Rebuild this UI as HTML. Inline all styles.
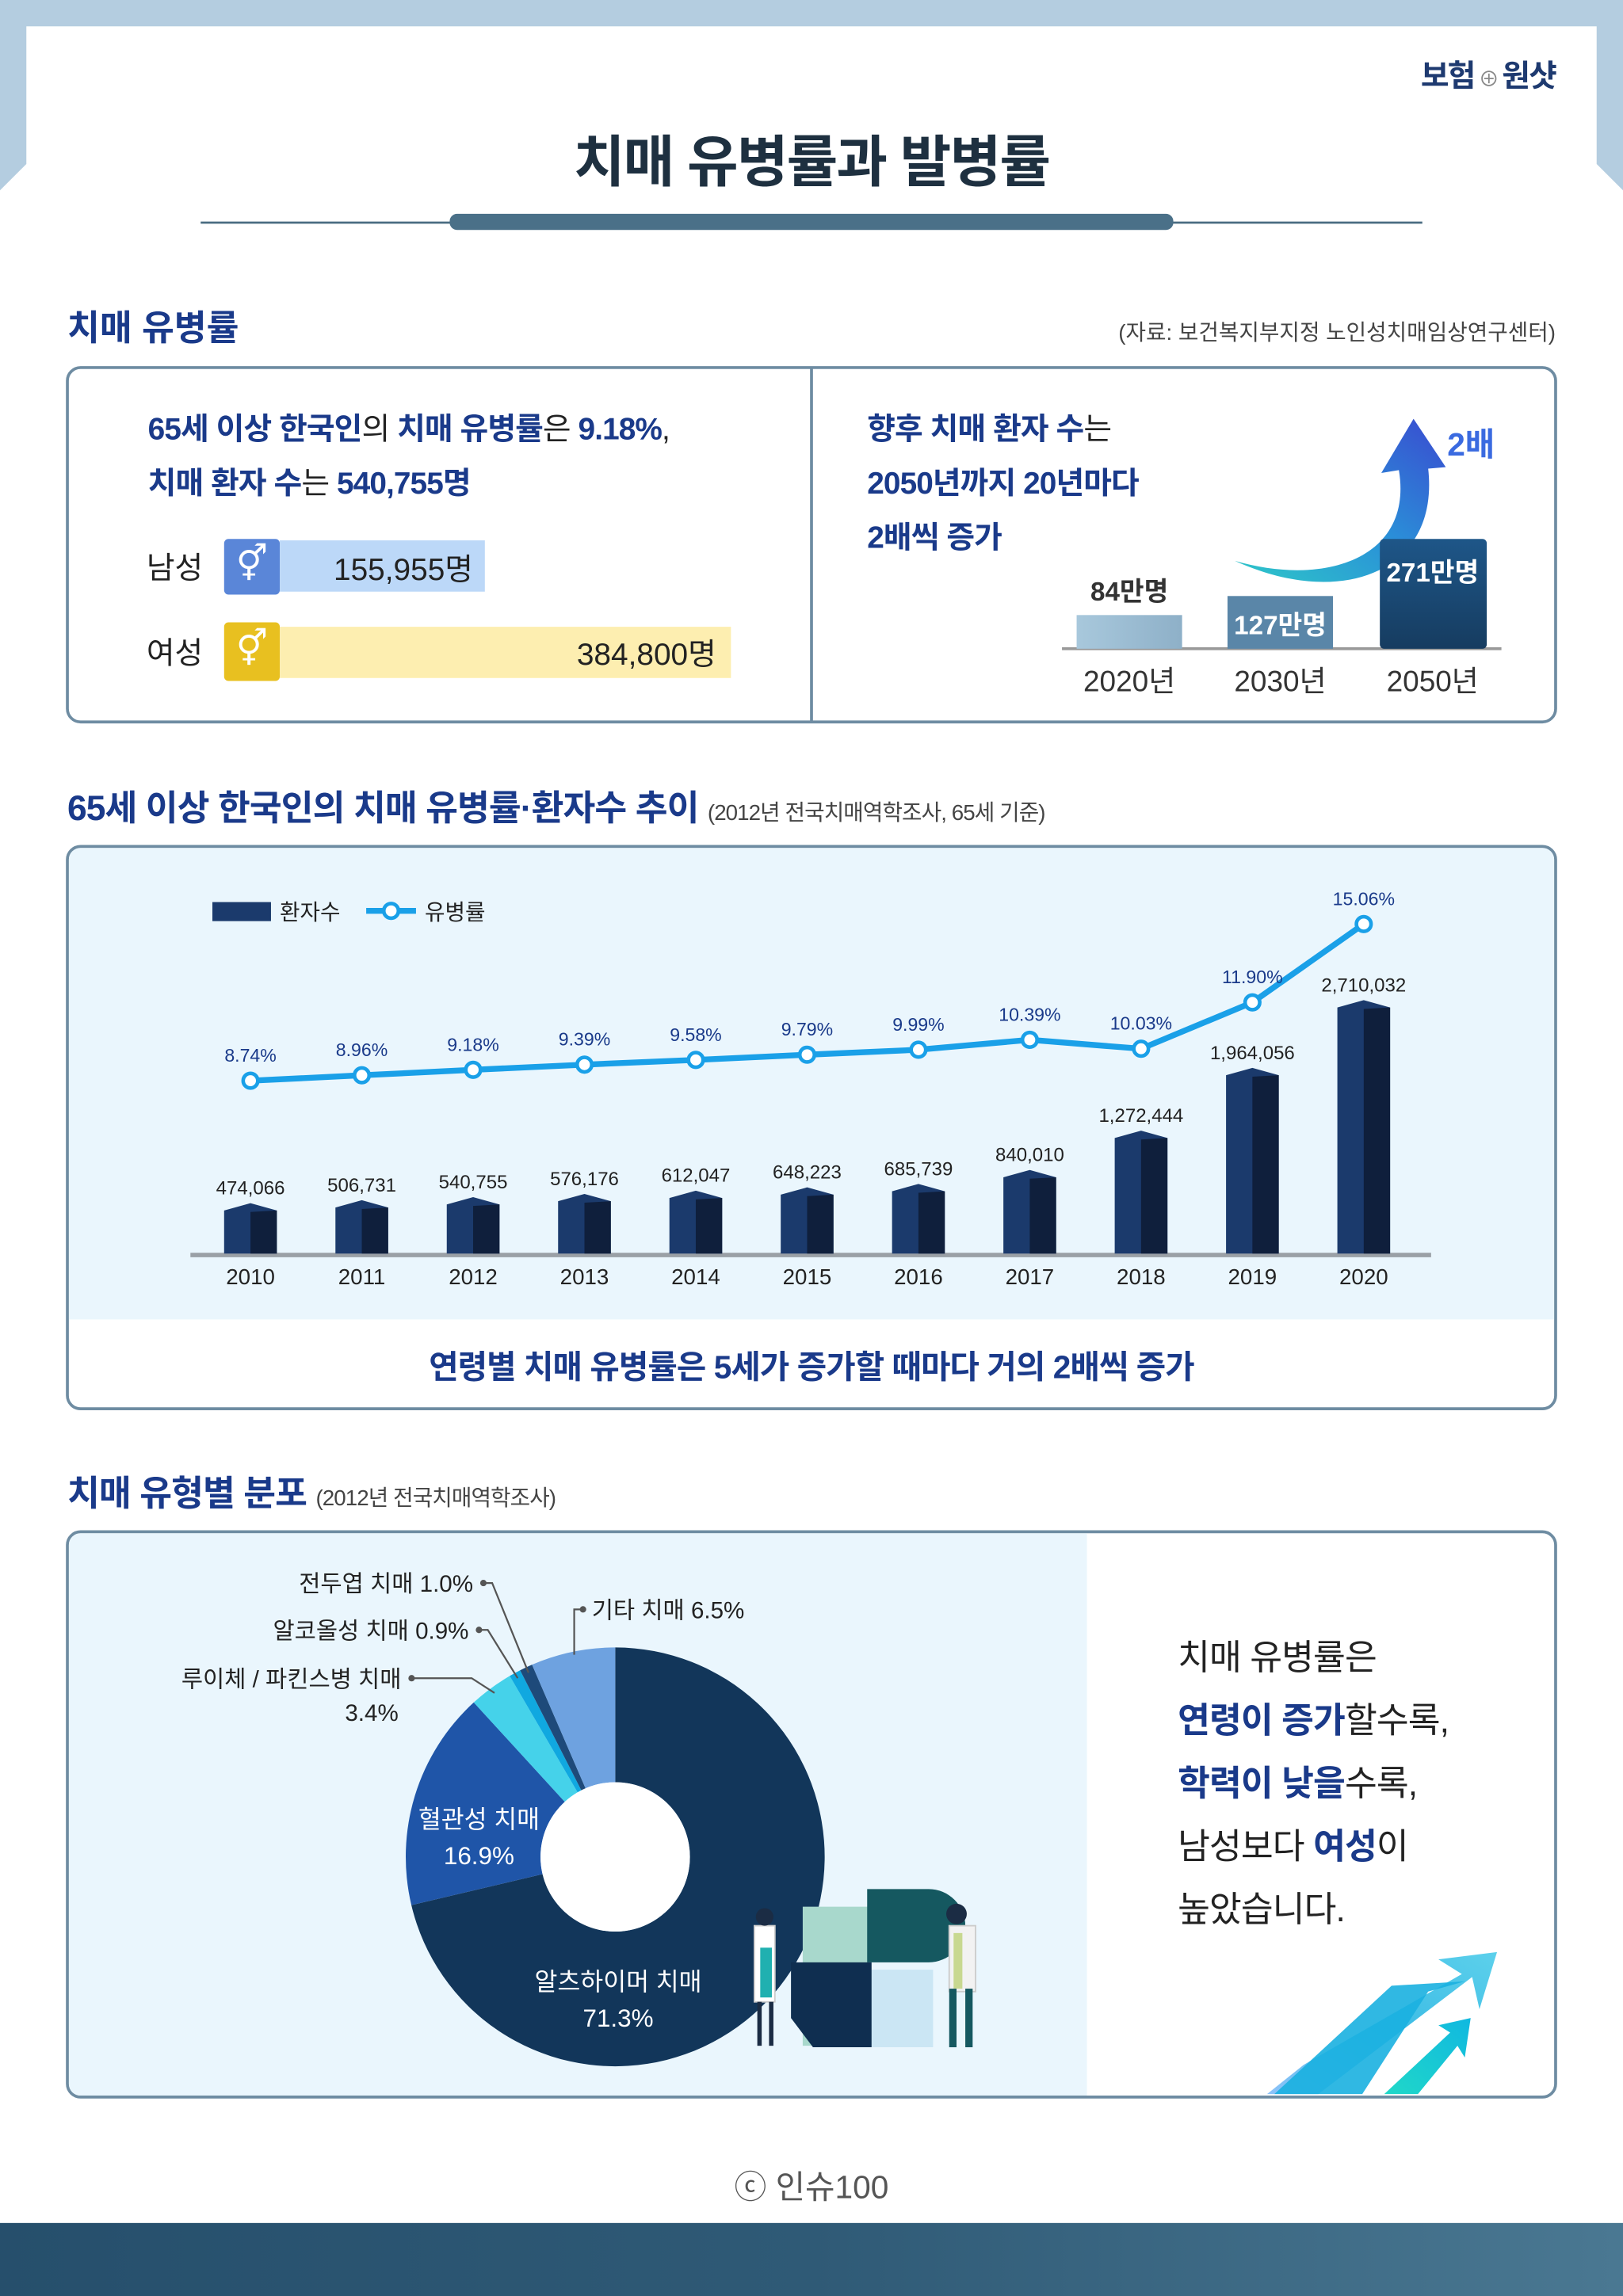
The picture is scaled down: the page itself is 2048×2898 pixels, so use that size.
<!DOCTYPE html>
<html><head><meta charset="utf-8">
<style>
html,body{margin:0;padding:0;}
body{width:2048px;height:2897px;overflow:hidden;background:#fff;font-family:"Liberation Sans","Noto Sans CJK KR",sans-serif;}
#wrap{position:absolute;left:0;top:0;width:1108px;height:1568px;transform:scale(1.84838);transform-origin:0 0;}
.abs{position:absolute;}
.b{font-weight:bold;color:#1a3a8a;}
.n{font-weight:normal;color:#222;}
.box{position:absolute;border:2px solid #6e8ca2;border-radius:10px;box-sizing:border-box;}
</style></head><body>
<div id="wrap">
<svg class="abs" style="left:0;top:0" width="1108" height="1568">
 <defs>
  <linearGradient id="bot" x1="0" x2="1"><stop offset="0" stop-color="#264f6c"/><stop offset="0.5" stop-color="#2f5a76"/><stop offset="1" stop-color="#4a7892"/></linearGradient>
 </defs>
 <rect x="0" y="0" width="1108" height="18" fill="#b4cde0"/>
 <polygon points="0,0 18,0 18,112 0,130" fill="#b4cde0"/>
 <polygon points="1090,0 1108,0 1108,130 1090,112" fill="#b4cde0"/>
 <rect x="0" y="1518" width="1108" height="50" fill="url(#bot)"/>
 <line x1="137" y1="152" x2="971" y2="152" stroke="#4a6c82" stroke-width="1.5"/>
 <rect x="307" y="146" width="494" height="11" rx="5" fill="#4a7088"/>
</svg>
<div class="abs" style="right:46px;top:36px;font-size:21px;font-weight:bold;color:#1e3a70;letter-spacing:-1px">보험<span style="font-size:14px;color:#888;font-weight:normal"> ⊕ </span>원샷</div>
<div class="abs" style="left:0;width:1108px;top:80px;text-align:center;font-size:38px;font-weight:bold;color:#1e3040;letter-spacing:-1px">치매 유병률과 발병률</div>

<!-- section 1 -->
<div class="abs b" style="left:46px;top:204px;font-size:24px">치매 유병률</div>
<div class="abs" style="right:46px;top:216px;font-size:15px;color:#444">(자료: 보건복지부지정 노인성치매임상연구센터)</div>
<div class="box" style="left:45px;top:250px;width:1018px;height:244px"></div>
<div class="abs" style="left:553px;top:251px;width:2px;height:242px;background:#6e8ca2"></div>
<div class="abs" style="left:101px;top:275px;font-size:21px;line-height:37px;letter-spacing:-0.5px">
<span class="b">65세 이상 한국인</span><span class="n">의 </span><span class="b">치매 유병률</span><span class="n">은 </span><span class="b">9.18%</span><span class="n">,</span><br>
<span class="b">치매 환자 수</span><span class="n">는 </span><span class="b">540,755명</span></div>
<div class="abs" style="left:100px;top:372px;font-size:21px;color:#222">남성</div>
<div class="abs" style="left:153px;top:368px;width:38px;height:38px;background:#5a86d8;border-radius:3px;color:#fff;text-align:center;font-size:24px;line-height:36px">⚥</div>
<div class="abs" style="left:191px;top:369px;width:140px;height:35px;background:#bcd8f8"></div>
<div class="abs" style="left:191px;width:132px;top:373px;text-align:right;font-size:21px;color:#222">155,955명</div>
<div class="abs" style="left:100px;top:430px;font-size:21px;color:#222">여성</div>
<div class="abs" style="left:153px;top:425px;width:38px;height:40px;background:#e8c020;border-radius:3px;color:#fff;text-align:center;font-size:24px;line-height:38px">⚥</div>
<div class="abs" style="left:191px;top:428px;width:308px;height:35px;background:#fdeeb0"></div>
<div class="abs" style="left:191px;width:298px;top:431px;text-align:right;font-size:21px;color:#222">384,800명</div>

<div class="abs" style="left:592px;top:275px;font-size:21px;line-height:37px;letter-spacing:-0.5px">
<span class="b">향후 치매 환자 수</span><span class="n">는</span><br><span class="b">2050년까지 20년마다</span><br><span class="b">2배씩 증가</span></div>
<svg class="abs" style="left:555px;top:251px" width="507" height="242">
 <defs>
  <linearGradient id="arr" x1="0" y1="1" x2="1" y2="0"><stop offset="0" stop-color="#2ec8c8"/><stop offset="0.5" stop-color="#2a90d8"/><stop offset="1" stop-color="#3a4ad0"/></linearGradient>
  <linearGradient id="b1" x1="0" x2="1"><stop offset="0" stop-color="#a8c8dc"/><stop offset="1" stop-color="#8eb0c8"/></linearGradient>
  <linearGradient id="b3" x1="0" y1="0" x2="0" y2="1"><stop offset="0" stop-color="#1e5688"/><stop offset="1" stop-color="#163c60"/></linearGradient>
 </defs>
 <path d="M288,132 C350,150 410,130 400,70 L388,72 L410,35 L432,68 L420,69 C428,140 360,165 288,132 Z" fill="url(#arr)"/>
 <text x="433" y="60" font-size="22" font-weight="bold" fill="#3a6ae0" font-family="Liberation Sans, Noto Sans CJK KR, sans-serif">2배</text>
 <line x1="170" y1="192" x2="470" y2="192" stroke="#999" stroke-width="2"/>
 <rect x="180" y="169" width="72" height="23" fill="url(#b1)"/>
 <rect x="283" y="156" width="72" height="36" fill="#5a86a8"/>
 <rect x="387" y="117" width="73" height="75" rx="3" fill="url(#b3)"/>
 <g font-family="Liberation Sans, Noto Sans CJK KR, sans-serif" text-anchor="middle">
 <text x="216" y="159" font-size="18" font-weight="bold" fill="#333">84만명</text>
 <text x="319" y="182" font-size="18" font-weight="bold" fill="#fff">127만명</text>
 <text x="423" y="146" font-size="18" font-weight="bold" fill="#fff">271만명</text>
 <text x="216" y="221" font-size="20" fill="#333">2020년</text>
 <text x="319" y="221" font-size="20" fill="#333">2030년</text>
 <text x="423" y="221" font-size="20" fill="#333">2050년</text>
 </g>
</svg>

<!-- section 2 -->
<div class="abs" style="left:46px;top:532px;font-size:24px;white-space:nowrap;letter-spacing:-0.5px"><span class="b">65세 이상 한국인의 치매 유병률·환자수 추이</span> <span style="font-size:15px;color:#444">(2012년 전국치매역학조사, 65세 기준)</span></div>
<div class="box" style="left:45px;top:577px;width:1018px;height:386px;background:#fff;overflow:hidden">
 <div style="position:absolute;left:0;top:0;width:100%;height:322px;background:#eaf6fd"></div>
</div>
<div class="abs b" style="left:0;width:1108px;top:916px;text-align:center;font-size:22px;letter-spacing:-0.5px">연령별 치매 유병률은 5세가 증가할 때마다 거의 2배씩 증가</div>
<svg id="chart" class="abs" style="left:0;top:0" width="1108" height="1000">
 <rect x="145" y="616" width="40" height="13" fill="#1b3a6c"/>
 <text x="191" y="628" font-size="15" fill="#222" font-family="Liberation Sans, Noto Sans CJK KR, sans-serif">환자수</text>
 <line x1="250" y1="622" x2="284" y2="622" stroke="#1aa0e8" stroke-width="4"/>
 <circle cx="267" cy="622" r="5" fill="#fff" stroke="#1aa0e8" stroke-width="2.5"/>
 <text x="290" y="628" font-size="15" fill="#222" font-family="Liberation Sans, Noto Sans CJK KR, sans-serif">유병률</text>
 <line x1="130" y1="857" x2="977" y2="857" stroke="#9aa0a6" stroke-width="3"/>
</svg>
<script>
const years=["2010","2011","2012","2013","2014","2015","2016","2017","2018","2019","2020"];
const patients=[474066,506731,540755,576176,612047,648223,685739,840010,1272444,1964056,2710032];
const patientLabels=["474,066","506,731","540,755","576,176","612,047","648,223","685,739","840,010","1,272,444","1,964,056","2,710,032"];
const prevalence=[8.74,8.96,9.18,9.39,9.58,9.79,9.99,10.39,10.03,11.90,15.06];
const prevalenceLabels=["8.74%","8.96%","9.18%","9.39%","9.58%","9.79%","9.99%","10.39%","10.03%","11.90%","15.06%"];
(function(){
 const svg=document.getElementById('chart');const NS="http://www.w3.org/2000/svg";
 const xs=i=>171+i*76;
 const yBar=v=>856-v*62/1000000;
 const yLine=p=>738-(p-8.74)*16.93;
 const F="Liberation Sans, Noto Sans CJK KR, sans-serif";
 function mk(t,a){const e=document.createElementNS(NS,t);for(const k in a)e.setAttribute(k,a[k]);svg.appendChild(e);return e;}
 years.forEach((y,i)=>{
  const x=xs(i),top=yBar(patients[i]);
  const g=mk('polygon',{points:`${x-18},${top} ${x},${top-5} ${x+18},${top} ${x+18},856 ${x-18},856`,fill:'#1b3a6c'});
  
  
  const s=mk('polygon',{points:`${x},${top+1} ${x+18},${top} ${x+18},856 ${x},856`,fill:'#0f1f3c'});
  
  
  const l=mk('text',{x:x,y:top-11,'font-size':13,'text-anchor':'middle',fill:'#222','font-family':F});
  l.textContent=patientLabels[i];
  
  
  const t=mk('text',{x:x,y:877,'font-size':15,'text-anchor':'middle',fill:'#222','font-family':F});
  t.textContent=y;
  
  
 });
 const pts=prevalence.map((p,i)=>xs(i)+','+yLine(p)).join(' ');
 const pl=mk('polyline',{points:pts,fill:'none',stroke:'#1aa0e8','stroke-width':4,'stroke-linejoin':'round'});
 
 
 prevalence.forEach((p,i)=>{
  const c=mk('circle',{cx:xs(i),cy:yLine(p),r:5,fill:'#fff',stroke:'#1aa0e8','stroke-width':2.5});
  
  
  const t=mk('text',{x:xs(i),y:yLine(p)-13,'font-size':12.5,'text-anchor':'middle',fill:'#1a3a8a','font-family':F});
  t.textContent=prevalenceLabels[i];
  
  
 });
})();
</script>

<!-- section 3 -->
<div class="abs" style="left:46px;top:1000px;font-size:24px;white-space:nowrap;letter-spacing:-0.5px"><span class="b">치매 유형별 분포</span> <span style="font-size:15px;color:#444">(2012년 전국치매역학조사)</span></div>
<div class="box" style="left:45px;top:1045px;width:1018px;height:388px;background:#fff;overflow:hidden">
 <div style="position:absolute;left:0;top:0;width:695px;height:100%;background:#eaf6fd"></div>
</div>
<svg id="donut" class="abs" style="left:0;top:0" width="1108" height="1440">
 <defs>
  <linearGradient id="ga" x1="0" y1="1" x2="1" y2="0"><stop offset="0" stop-color="#7ab8f8"/><stop offset="0.5" stop-color="#1ab0e0"/><stop offset="1" stop-color="#40c8e8"/></linearGradient>
  <linearGradient id="gb" x1="0" y1="1" x2="1" y2="0"><stop offset="0" stop-color="#20d8c8"/><stop offset="1" stop-color="#10b8e0"/></linearGradient>
 </defs>
 <polygon points="865,1430 900,1430 1005,1350 1010,1372 1022,1333 982,1338 998,1348 890,1410" fill="url(#ga)" opacity="0.85"/>
 <polygon points="870,1430 930,1430 975,1360 1000,1353 950,1356" fill="#1ab0e0" opacity="0.9"/>
 <polygon points="945,1430 968,1430 995,1397 1000,1405 1004,1378 982,1383 990,1388" fill="url(#gb)"/>
 <!-- simple puzzle illustration -->
 <path d="M548,1302 h45 v95 h-45 z" fill="#a8d8cc"/>
 <path d="M592,1290 h42 a20 20 0 0 1 0 50 h-42 z" fill="#155860"/>
 <path d="M595,1345 h42 v53 h-42 z" fill="#cbe6f4"/>
 <path d="M540,1340 h55 v58 h-40 l-15 -20 z" fill="#0f2e50"/>
 <rect x="515" y="1315" width="14" height="52" fill="#fff" stroke="#ccc"/>
 <rect x="519" y="1330" width="8" height="34" fill="#20b0b0"/>
 <circle cx="522" cy="1309" r="6" fill="#1b2c44"/>
 <rect x="517" y="1367" width="3" height="30" fill="#1b2c44"/><rect x="525" y="1367" width="3" height="30" fill="#1b2c44"/>
 <rect x="648" y="1315" width="18" height="45" fill="#f2f2f2" stroke="#ccc"/>
 <rect x="651" y="1320" width="6" height="38" fill="#c8d890"/>
 <circle cx="653" cy="1307" r="7" fill="#1b2c44"/>
 <rect x="648" y="1358" width="5" height="40" fill="#155860"/><rect x="659" y="1358" width="5" height="40" fill="#155860"/>
</svg>
<script>
const typeNames=["알츠하이머 치매","혈관성 치매","루이체 / 파킨스병 치매","알코올성 치매","전두엽 치매","기타 치매"];
const typeShares=[71.3,16.9,3.4,0.9,1.0,6.5];
const typeColors=["#12365a","#1f55a8","#45d2ea","#10a8e0","#1e4a7a","#6ea2e0"];
(function(){
 const svg=document.getElementById('donut');const NS="http://www.w3.org/2000/svg";
 const cx=420,cy=1268,R=143,r=51;
 const F="Liberation Sans, Noto Sans CJK KR, sans-serif";
 const total=typeShares.reduce((a,b)=>a+b,0);
 const pt=(a,rad)=>[cx+rad*Math.sin(a),cy-rad*Math.cos(a)];
 let acc=0;const mids=[];
 const first=svg.firstElementChild.nextElementSibling;
 typeShares.forEach((v,i)=>{
  const a0=acc/total*2*Math.PI;acc+=v;const a1=acc/total*2*Math.PI;
  mids.push((a0+a1)/2);
  const lg=(a1-a0)>Math.PI?1:0;
  const [x0,y0]=pt(a0,R),[x1,y1]=pt(a1,R),[x2,y2]=pt(a1,r),[x3,y3]=pt(a0,r);
  const p=document.createElementNS(NS,'path');
  p.setAttribute('d',`M${x0},${y0} A${R},${R} 0 ${lg} 1 ${x1},${y1} L${x2},${y2} A${r},${r} 0 ${lg} 0 ${x3},${y3} Z`);
  p.setAttribute('fill',typeColors[i]);
  
  
  svg.insertBefore(p,first);
 });
 const hole=document.createElementNS(NS,'circle');
 hole.setAttribute('cx',cx);hole.setAttribute('cy',cy);hole.setAttribute('r',r);hole.setAttribute('fill','#fff');
 svg.insertBefore(hole,first);
 function txt(s,x,y,anchor,fill,size,name){const t=document.createElementNS(NS,'text');t.setAttribute('x',x);t.setAttribute('y',y);t.setAttribute('text-anchor',anchor);t.setAttribute('fill',fill);t.setAttribute('font-size',size);t.setAttribute('font-family',F);t.textContent=s;
  
  
  svg.appendChild(t);}
 function line(pts){const l=document.createElementNS(NS,'polyline');l.setAttribute('points',pts);l.setAttribute('fill','none');l.setAttribute('stroke','#555');l.setAttribute('stroke-width','1.2');svg.appendChild(l);}
 function dot(x,y){const c=document.createElementNS(NS,'circle');c.setAttribute('cx',x);c.setAttribute('cy',y);c.setAttribute('r',2.2);c.setAttribute('fill','#555');svg.appendChild(c);}
 txt(typeNames[0],422,1359,'middle','#fff',17,'label-alzheimer');
 txt(typeShares[0]+'%',422,1384,'middle','#fff',17,'value-alzheimer');
 txt(typeNames[1],327,1248,'middle','#fff',17,'label-vascular');
 txt(typeShares[1]+'%',327,1273,'middle','#fff',17,'value-vascular');
 const pe=i=>pt(mids[i],R-4);
 let p=pe(4);dot(330,1081);line(`330,1081 336,1081 ${p[0]},${p[1]}`);
 txt('전두엽 치매 '+typeShares[4].toFixed(1)+'%',323,1087,'end','#222',16,'label-frontal');
 p=pe(3);dot(327,1113);line(`327,1113 333,1113 ${p[0]},${p[1]}`);
 txt('알코올성 치매 '+typeShares[3]+'%',320,1119,'end','#222',16,'label-alcohol');
 p=pe(2);dot(281,1146);line(`281,1146 322,1146 ${p[0]},${p[1]}`);
 txt('루이체 / 파킨스병 치매',274,1152,'end','#222',16,'label-lewy');
 txt(typeShares[2]+'%',272,1175,'end','#222',16,'value-lewy');
 dot(398,1099);line(`398,1099 392,1099 392,1130`);
 txt('기타 치매 '+typeShares[5]+'%',404,1105,'start','#222',16,'label-other');
})();
</script>
<div class="abs" style="left:804px;top:1111px;font-size:24px;line-height:43px;letter-spacing:-0.5px;color:#222">
치매 유병률은<br><span class="b">연령이 증가</span>할수록,<br><span class="b">학력이 낮을</span>수록,<br>남성보다 <span class="b">여성</span>이<br>높았습니다.</div>
<div class="abs" style="left:0;width:1108px;top:1476px;text-align:center;font-size:22px;color:#555">ⓒ 인슈100</div>
</div>
</body></html>
